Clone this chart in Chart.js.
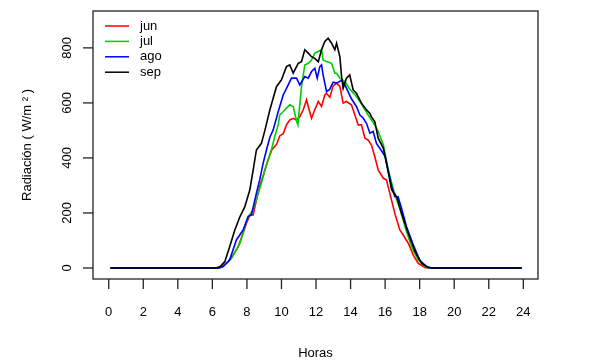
<!DOCTYPE html>
<html><head><meta charset="utf-8">
<script src="https://cdn.jsdelivr.net/npm/chart.js@4/dist/chart.umd.min.js"></script>
<style>html,body{margin:0;padding:0;background:#fff;}#wrap{width:590px;height:363px;}</style>
</head><body><div id="wrap"><canvas id="c" width="590" height="363"></canvas></div>
<script>
const seriesNames = ["jun", "jul", "ago", "sep"];
const xTickLabels = [0, 2, 4, 6, 8, 10, 12, 14, 16, 18, 20, 22, 24];
const yTickLabels = [0, 200, 400, 600, 800];
const xTitle = "Horas";
const yTitle = "Radiación ( W/m ² )";

const hoursJun = [0.1,6.35,6.53,6.91,7.2,7.49,7.78,7.97,8.17,8.36,8.55,8.74,9.04,9.23,9.43,9.72,9.9,10.1,10.29,10.48,10.68,10.87,11.06,11.26,11.45,11.6,11.74,11.93,12.13,12.32,12.51,12.61,12.8,12.99,13.19,13.38,13.57,13.76,14.05,14.25,14.44,14.63,14.83,15.02,15.21,15.4,15.6,15.9,16.08,16.27,16.56,16.85,17.05,17.34,17.63,17.92,18.3,18.5,23.9];
const radJun   = [0,0,5,23,47,77,126,162,193,193,247,296,356,393,428,450,480,488,520,538,544,538,550,575,611,575,544,575,605,587,629,635,620,662,672,660,599,605,593,556,520,520,472,465,447,405,356,326,320,272,199,138,120,90,47,17,2,0,0];

const hoursJul = [0.1,6.4,6.62,7.11,7.6,7.88,8.07,8.36,8.65,8.84,9.04,9.23,9.43,9.62,9.81,9.9,10.2,10.48,10.68,10.87,10.95,11.16,11.35,11.55,11.74,11.93,12.13,12.32,12.41,12.61,12.9,13.09,13.19,13.38,13.67,13.95,14.25,14.54,14.83,15.02,15.21,15.4,15.6,15.9,16.19,16.5,16.9,17.2,17.53,17.92,18.3,18.6,23.9];
const radJul   = [0,0,5,35,90,150,187,211,272,308,356,393,432,480,520,556,575,593,587,535,520,659,738,744,756,781,787,793,756,750,744,708,708,690,678,650,630,605,575,556,538,520,496,447,356,280,205,140,77,29,5,0,0];

const hoursAgo = [0.1,6.4,6.62,7.0,7.39,7.78,8.07,8.26,8.55,8.74,8.94,9.13,9.33,9.52,9.81,10.1,10.29,10.58,10.87,11.06,11.35,11.55,11.74,11.93,12.07,12.22,12.32,12.41,12.61,12.8,12.99,13.19,13.48,13.67,13.86,14.05,14.34,14.54,14.73,14.92,15.12,15.31,15.5,15.8,16.0,16.38,16.56,16.75,16.95,17.24,17.63,18.0,18.4,18.7,23.9];
const radAgo   = [0,0,5,29,102,138,187,193,272,320,381,429,475,502,568,629,653,690,690,665,696,690,714,726,690,732,738,702,641,650,675,672,682,665,640,615,587,556,545,526,490,496,453,425,405,296,259,259,217,150,84,29,5,0,0];

const hoursSep = [0.1,6.2,6.45,6.72,7.0,7.3,7.6,7.88,8.17,8.36,8.55,8.84,9.04,9.33,9.71,10.0,10.29,10.48,10.68,10.97,11.16,11.35,11.55,11.74,11.93,12.13,12.32,12.51,12.7,12.9,13.09,13.19,13.38,13.48,13.57,13.76,13.95,14.15,14.34,14.63,14.92,15.12,15.2,15.4,15.6,15.9,16.08,16.38,16.67,16.95,17.34,17.73,18.12,18.5,18.7,23.9];
const radSep   = [0,0,5,23,77,138,187,223,284,356,429,453,500,575,659,684,732,738,708,744,750,793,781,768,762,750,793,823,835,817,793,817,768,696,653,690,702,647,635,599,575,562,550,532,472,435,380,284,259,199,126,59,17,2,0,0];

const seriesHours = [hoursJun, hoursJul, hoursAgo, hoursSep];
const seriesValues = [radJun, radJul, radAgo, radSep];
const seriesColors = ["#FF0000", "#00CD00", "#0000FF", "#000000"];

const FONT = "'Liberation Sans', Arial, Helvetica, sans-serif";

const datasets = seriesNames.map((name, i) => ({
  label: name,
  data: seriesHours[i].map((h, j) => ({x: h, y: seriesValues[i][j]})),
  borderColor: seriesColors[i],
  borderWidth: 1.6,
  pointRadius: 0,
  tension: 0,
  fill: false,
  order: seriesNames.length - i
}));

const rAxes = {
  id: 'rAxes',
  afterDraw(chart) {
    const ctx = chart.ctx;
    const a = chart.chartArea;
    const xs = chart.scales.x, ys = chart.scales.y;
    ctx.save();
    ctx.strokeStyle = '#222';
    ctx.lineWidth = 1.3;
    ctx.strokeRect(a.left, a.top, a.right - a.left, a.bottom - a.top);
    ctx.fillStyle = '#000';
    ctx.font = '13px ' + FONT;
    // x ticks
    ctx.textAlign = 'center';
    ctx.textBaseline = 'middle';
    xTickLabels.forEach(v => {
      const px = xs.getPixelForValue(v);
      ctx.beginPath(); ctx.moveTo(px, a.bottom); ctx.lineTo(px, a.bottom + 10); ctx.stroke();
      ctx.fillText(String(v), px, 312);
    });
    // y ticks
    yTickLabels.forEach(v => {
      const py = ys.getPixelForValue(v);
      ctx.beginPath(); ctx.moveTo(a.left, py); ctx.lineTo(a.left - 10, py); ctx.stroke();
      ctx.save();
      ctx.translate(67, py);
      ctx.rotate(-Math.PI / 2);
      ctx.fillText(String(v), 0, 0);
      ctx.restore();
    });
    // titles
    ctx.font = '13px ' + FONT;
    ctx.fillText(xTitle, (a.left + a.right) / 2, 353);
    ctx.save();
    ctx.translate(27, (a.top + a.bottom) / 2);
    ctx.rotate(-Math.PI / 2);
    ctx.fillText(yTitle, 0, 0);
    ctx.restore();
    // legend
    ctx.textAlign = 'left';
    seriesNames.forEach((name, i) => {
      const ly = 26 + i * 15.4;
      ctx.strokeStyle = seriesColors[i];
      ctx.lineWidth = 1.5;
      ctx.beginPath(); ctx.moveTo(105, ly); ctx.lineTo(129, ly); ctx.stroke();
      ctx.fillStyle = '#000';
      ctx.fillText(name, 140, ly);
    });
    ctx.restore();
  }
};

new Chart(document.getElementById('c'), {
  type: 'line',
  data: { datasets },
  options: {
    responsive: false,
    animation: false,
    devicePixelRatio: 1,
    layout: { padding: { left: 93, right: 52, top: 11, bottom: 84 } },
    plugins: { legend: { display: false }, tooltip: { enabled: false } },
    scales: {
      x: { type: 'linear', min: -0.91, max: 24.85, display: false },
      y: { type: 'linear', min: -40, max: 934, display: false }
    }
  },
  plugins: [rAxes]
});
</script></body></html>
